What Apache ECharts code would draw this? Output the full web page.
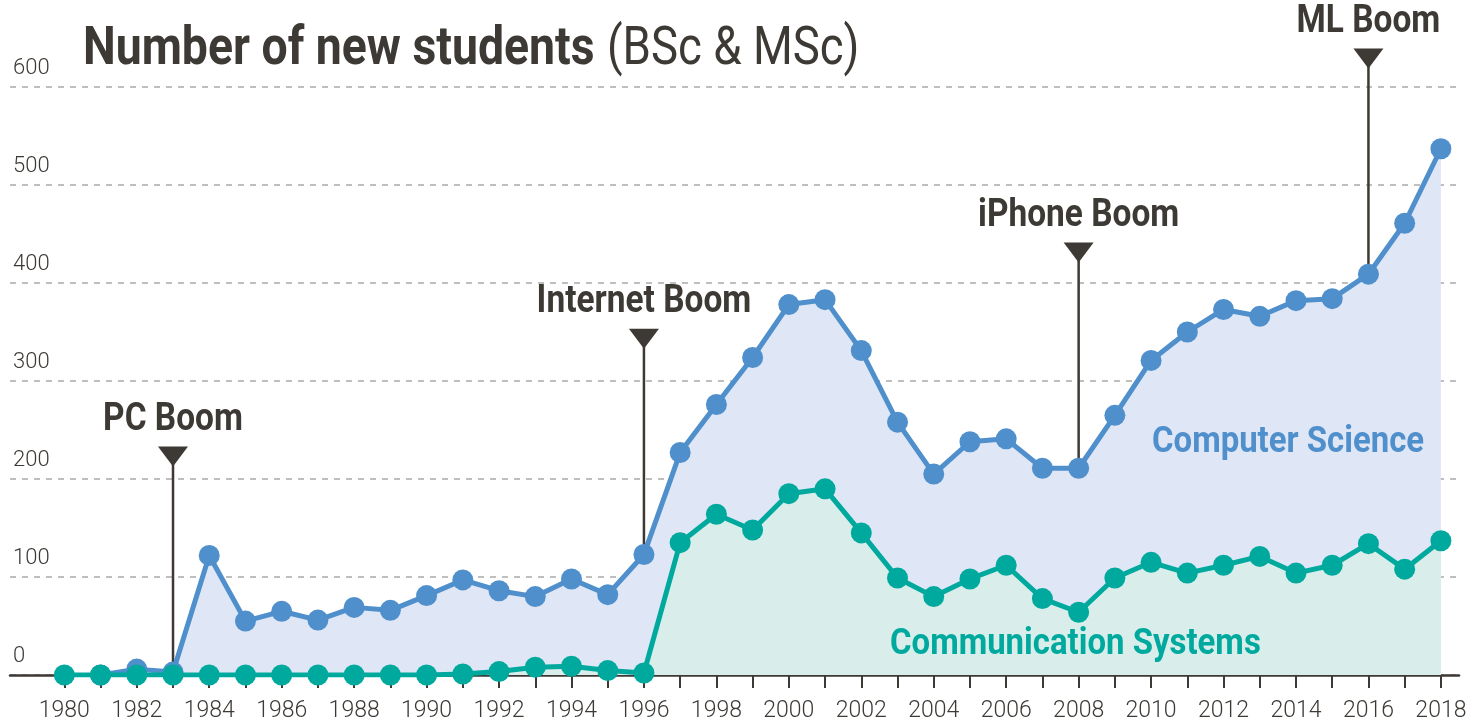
<!DOCTYPE html>
<html>
<head>
<meta charset="utf-8">
<script src="https://cdn.jsdelivr.net/npm/echarts@6/dist/echarts.min.js"></script>
<style>
  html, body { margin: 0; padding: 0; background: #fff; }
  #chart { width: 1473px; height: 723px; }
</style>
</head>
<body>
<div id="chart"></div>
<script>
const years = []
for (let y = 1980; y <= 2018; y++) years.push(y)

// new students per year, null = no data
const computerScience = [
  null, 0, 6, 3, 122, 55, 65, 56, 69, 66,
  81, 97, 86, 80, 98, 82, 123, 227, 276, 324,
  378, 383, 331, 258, 205, 238, 241, 211, 211, 265,
  321, 350, 373, 366, 382, 384, 409, 461, 537
]
const communicationSystems = [
  0, 0, 0, 0, 0, 0, 0, 0, 0, 0,
  0, 1, 3.5, 8, 9, 4.5, 2, 135, 164, 148,
  185, 190, 145, 99, 80, 98, 112, 78, 64, 99,
  115, 104, 112, 121, 104, 112, 134, 108, 137
]
const yTicks = [0, 100, 200, 300, 400, 500, 600]
const labelYears = years.filter(y => y % 2 === 0)

const boomYears = [1983, 1996, 2008, 2016]
const boomLabels = ['PC Boom', 'Internet Boom', 'iPhone Boom', 'ML Boom']

const DARK = '#3d3935'
const BLUE = '#4f8fcc'
const TEAL = '#00a99d'
const BOLD = 'bold 38px Roboto, sans-serif'
const LIGHT = 'Roboto, "Liberation Sans", sans-serif'
const SQUEEZE = 0.88

const csValueOf = y => computerScience[years.indexOf(y)]
const markerRise = 220

// line + triangle + label above a point of the CS curve
function renderBoom(params, api) {
  const year = api.value(0)
  const v = api.value(1)
  const base = api.coord([year, v])
  const tip = api.coord([year, v + markerRise])
  const x = tip[0], y = tip[1]
  return {
    type: 'group',
    children: [
      {
        type: 'line',
        shape: { x1: x, y1: y, x2: base[0], y2: base[1] },
        style: { stroke: DARK, lineWidth: 2.5 }
      },
      {
        type: 'polygon',
        shape: { points: [[x - 15, y - 10], [x + 15, y - 10], [x, y + 10]] },
        style: { fill: DARK }
      },
      {
        type: 'text',
        x: x,
        y: y - 36,
        scaleX: SQUEEZE,
        style: {
          text: boomLabels[params.dataIndex],
          font: BOLD,
          fill: DARK,
          align: 'center',
          verticalAlign: 'middle'
        }
      }
    ]
  }
}

function initChart() {
  const chart = echarts.init(document.getElementById('chart'))

  const option = {
    animation: false,
    grid: { left: 10, right: 14, top: 87, bottom: 46 },
    xAxis: {
      type: 'value',
      min: 1978.5,
      max: 2018.5,
      splitLine: { show: false },
      axisLine: { show: true, lineStyle: { color: DARK, width: 2.5 } },
      axisTick: {
        show: true,
        customValues: years,
        length: 13,
        lineStyle: { color: DARK, width: 2 }
      },
      axisLabel: {
        customValues: labelYears,
        formatter: v => String(v),
        margin: 25,
        fontFamily: LIGHT,
        fontWeight: 300,
        fontSize: 23,
        color: DARK
      }
    },
    yAxis: {
      type: 'value',
      min: 0,
      max: 600,
      interval: 100,
      axisLine: { show: false },
      axisTick: { show: false },
      splitLine: { lineStyle: { color: '#aaa', width: 1.5, type: [6, 6] } },
      axisLabel: {
        inside: true,
        margin: 3,
        verticalAlign: 'bottom',
        padding: [0, 0, 8, 0],
        fontFamily: LIGHT,
        fontWeight: 300,
        fontSize: 22,
        color: DARK,
        formatter: v => (yTicks.includes(v) ? String(v) : '')
      }
    },
    graphic: [
      {
        type: 'text', x: 83, y: 51, z: 100, scaleX: 0.875,
        style: { text: 'Number of new students', fill: DARK, font: 'bold 53px Roboto, sans-serif', verticalAlign: 'middle' }
      },
      {
        type: 'text', x: 607, y: 51, z: 100, scaleX: 0.86,
        style: { text: '(BSc & MSc)', fill: DARK, font: '53px Roboto, sans-serif', verticalAlign: 'middle' }
      },
      {
        type: 'text', x: 1152, y: 443, z: 100, scaleX: 0.89,
        style: { text: 'Computer Science', fill: BLUE, font: 'bold 37px Roboto, sans-serif', verticalAlign: 'middle' }
      },
      {
        type: 'text', x: 890, y: 645, z: 100, scaleX: 0.89,
        style: { text: 'Communication Systems', fill: TEAL, font: 'bold 37px Roboto, sans-serif', verticalAlign: 'middle' }
      }
    ],
    series: [
      {
        name: 'booms',
        type: 'custom',
        z: 1,
        silent: true,
        clip: false,
        data: boomYears.map(y => [y, csValueOf(y)]),
        renderItem: renderBoom
      },
      {
        name: 'Computer Science',
        type: 'line',
        z: 3,
        data: years.map((y, i) => [y, computerScience[i]]),
        symbol: 'circle',
        symbolSize: 21,
        showAllSymbol: true,
        lineStyle: { color: BLUE, width: 5 },
        itemStyle: { color: BLUE },
        areaStyle: { color: '#dfe6f5', opacity: 1 }
      },
      {
        name: 'Communication Systems',
        type: 'line',
        z: 4,
        data: years.map((y, i) => [y, communicationSystems[i]]),
        symbol: 'circle',
        symbolSize: 21,
        showAllSymbol: true,
        lineStyle: { color: TEAL, width: 5 },
        itemStyle: { color: TEAL },
        areaStyle: { color: '#d9eeeb', opacity: 1 }
      }
    ]
  }
  chart.setOption(option)
}

initChart()
</script>
</body>
</html>
